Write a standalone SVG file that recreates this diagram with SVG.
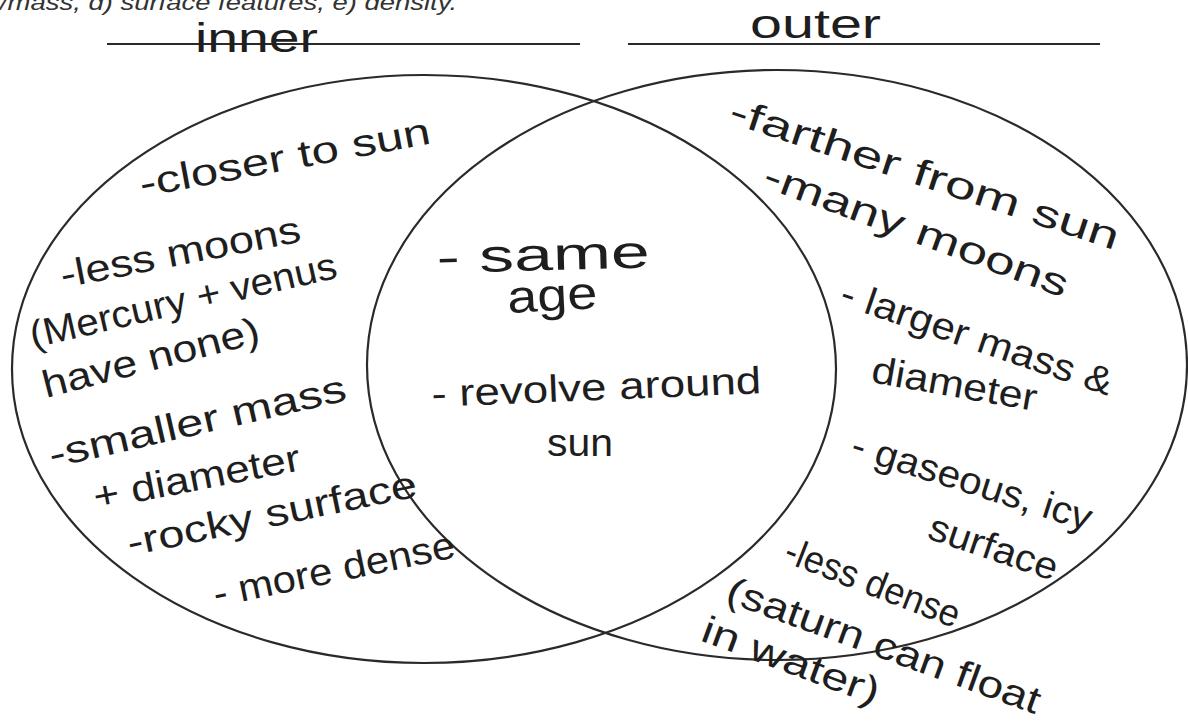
<svg xmlns="http://www.w3.org/2000/svg" width="1188" height="723" viewBox="0 0 1188 723">
<style>
.bg{fill:#ffffff}
.ring{fill:none;stroke:#2a2a2a;stroke-width:2.2}
.rule{stroke:#2a2a2a;stroke-width:2}
.hw{font-family:"Liberation Sans","DejaVu Sans",sans-serif;fill:#1e1e1e;font-size:38px}
.big{font-size:46px}
.hd{font-family:"Liberation Sans","DejaVu Sans",sans-serif;fill:#1e1e1e;font-size:40px}
.top{font-family:"Liberation Sans","DejaVu Sans",sans-serif;fill:#333;font-size:22px;font-style:italic}
</style>
<rect class="bg" x="0" y="0" width="1188" height="723"/>
<g id="header">
  <text class="top" x="0" y="10" textLength="457" lengthAdjust="spacingAndGlyphs">/mass, d) surface features, e) density.</text>
  <line class="rule" x1="107" y1="44" x2="580" y2="44"/>
  <line class="rule" x1="628" y1="44" x2="1100" y2="44"/>
  <text class="hd" x="195" y="52" textLength="123" lengthAdjust="spacingAndGlyphs">inner</text>
  <text class="hd" x="750" y="38" textLength="131" lengthAdjust="spacingAndGlyphs">outer</text>
</g>
<g id="inner-circle">
  <ellipse class="ring" cx="424" cy="369" rx="412" ry="294"/>
</g>
<g id="outer-circle">
  <ellipse class="ring" cx="777" cy="365" rx="410" ry="295"/>
</g>
<g id="inner-notes">
  <text class="hw" x="142" y="197" transform="rotate(-10.5 142 197)" textLength="295" lengthAdjust="spacingAndGlyphs">-closer to sun</text>
  <text class="hw" x="63" y="288" transform="rotate(-11 63 288)" textLength="244" lengthAdjust="spacingAndGlyphs">-less moons</text>
  <text class="hw" x="33" y="348" transform="rotate(-13 33 348)" textLength="314" lengthAdjust="spacingAndGlyphs">(Mercury + venus</text>
  <text class="hw" x="46" y="398" transform="rotate(-14.5 46 398)" textLength="223" lengthAdjust="spacingAndGlyphs">have none)</text>
  <text class="hw" x="52" y="468" transform="rotate(-12.9 52 468)" textLength="304" lengthAdjust="spacingAndGlyphs">-smaller mass</text>
  <text class="hw" x="96" y="510" transform="rotate(-11 96 510)" textLength="210" lengthAdjust="spacingAndGlyphs">+ diameter</text>
  <text class="hw" x="130" y="556" transform="rotate(-11.7 130 556)" textLength="295" lengthAdjust="spacingAndGlyphs">-rocky surface</text>
  <text class="hw" x="216" y="607" transform="rotate(-11.7 216 607)" textLength="246" lengthAdjust="spacingAndGlyphs">- more dense</text>
</g>
<g id="shared-notes">
  <text class="hw big" x="437" y="273" transform="rotate(-1.5 437 273)" textLength="213" lengthAdjust="spacingAndGlyphs">- same</text>
  <text class="hw big" x="508" y="313" transform="rotate(-3 508 313)" textLength="90" lengthAdjust="spacingAndGlyphs">age</text>
  <text class="hw" x="432" y="407" transform="rotate(-2.4 432 407)" textLength="330" lengthAdjust="spacingAndGlyphs">- revolve around</text>
  <text class="hw" x="547" y="456" textLength="66" lengthAdjust="spacingAndGlyphs">sun</text>
</g>
<g id="outer-notes">
  <text class="hw" x="727" y="122" transform="rotate(18.3 727 122)" textLength="408" lengthAdjust="spacingAndGlyphs">-farther from sun</text>
  <text class="hw" x="761" y="186" transform="rotate(20.3 761 186)" textLength="322" lengthAdjust="spacingAndGlyphs">-many moons</text>
  <text class="hw" x="838" y="304" transform="rotate(18.8 838 304)" textLength="285" lengthAdjust="spacingAndGlyphs">- larger mass &amp;</text>
  <text class="hw" x="870" y="382" transform="rotate(10 870 382)" textLength="167" lengthAdjust="spacingAndGlyphs">diameter</text>
  <text class="hw" x="849" y="456" transform="rotate(17.5 849 456)" textLength="250" lengthAdjust="spacingAndGlyphs">- gaseous, icy</text>
  <text class="hw" x="926" y="538" transform="rotate(18.7 926 538)" textLength="134" lengthAdjust="spacingAndGlyphs">surface</text>
  <text class="hw" x="782" y="561" transform="rotate(21.3 782 561)" textLength="185" lengthAdjust="spacingAndGlyphs">-less dense</text>
  <text class="hw" x="724" y="601" transform="rotate(20 724 601)" textLength="331" lengthAdjust="spacingAndGlyphs">(saturn can float</text>
  <text class="hw" x="699" y="640" transform="rotate(20.4 699 640)" textLength="187" lengthAdjust="spacingAndGlyphs">in water)</text>
</g>
</svg>
